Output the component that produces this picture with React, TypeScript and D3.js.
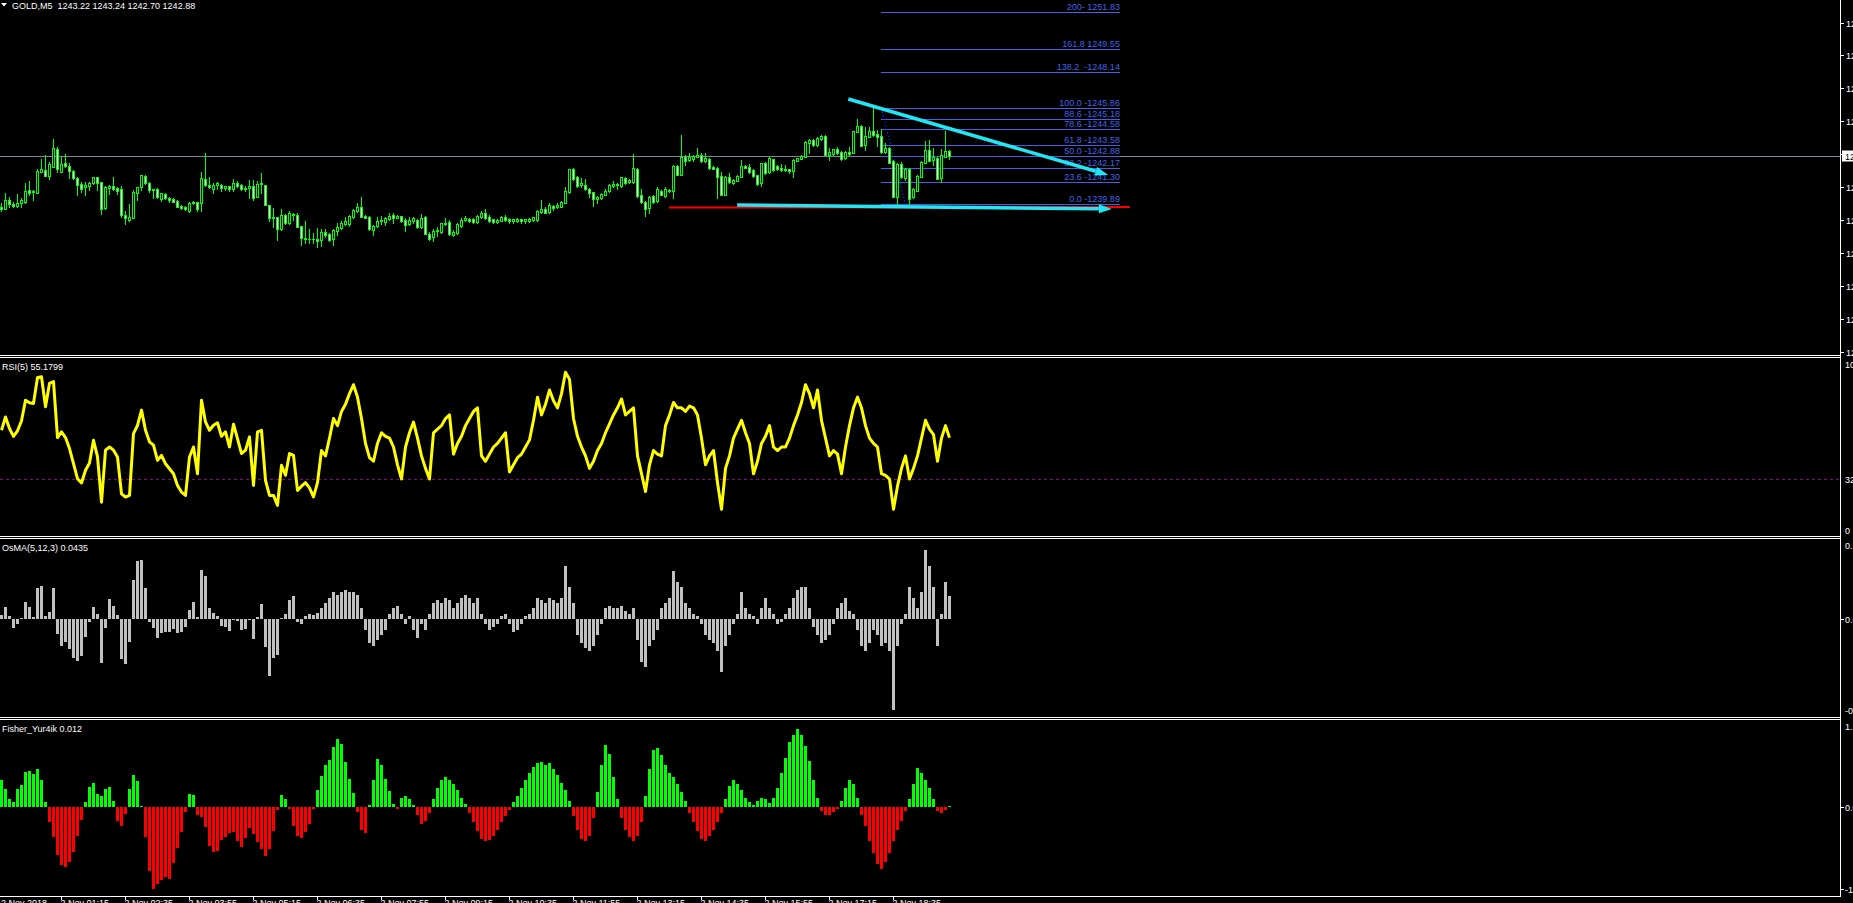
import React from "react";
import * as d3 from "d3";

const W = 1853;
const H = 903;
const AXIS_X = 1840.5;
const FONT = "'Liberation Sans', Arial, sans-serif";

const titleText = "GOLD,M5  1243.22 1243.24 1242.70 1242.88";
const rsiTitle = "RSI(5) 55.1799";
const osmaTitle = "OsMA(5,12,3) 0.0435";
const fisherTitle = "Fisher_Yur4ik 0.012";

// [open, high, low, close]
const candles: [number, number, number, number][] = [
  [1239.75,1240.00,1239.48,1239.63],[1239.63,1240.58,1239.63,1240.17],[1240.13,1240.33,1239.75,1239.92],[1239.94,1240.04,1239.71,1239.79],[1239.79,1240.52,1239.71,1239.98],
  [1239.96,1240.27,1239.75,1240.17],[1240.06,1241.20,1239.96,1240.71],[1240.77,1241.33,1240.48,1240.60],[1240.64,1240.79,1240.17,1240.71],[1240.62,1242.07,1240.62,1241.95],
  [1241.93,1242.70,1241.93,1242.07],[1242.01,1242.94,1241.68,1241.68],[1241.68,1242.55,1241.47,1242.38],[1242.24,1243.96,1242.20,1243.38],[1243.32,1243.44,1241.93,1242.07],
  [1241.93,1242.82,1241.93,1242.41],[1242.45,1243.03,1242.20,1242.28],[1242.28,1242.45,1241.51,1241.95],[1241.95,1242.03,1241.47,1241.51],[1241.51,1241.62,1240.48,1241.12],
  [1241.14,1241.31,1240.68,1240.85],[1240.95,1241.27,1240.50,1241.10],[1241.06,1241.31,1240.79,1241.22],[1241.20,1241.62,1241.16,1241.58],[1241.58,1241.62,1240.79,1241.24],
  [1241.27,1241.31,1239.30,1239.63],[1239.69,1241.04,1239.63,1240.98],[1240.93,1241.10,1240.54,1241.02],[1241.02,1241.60,1240.79,1240.87],[1240.89,1240.98,1240.54,1240.73],
  [1240.83,1241.04,1239.09,1239.25],[1239.21,1239.48,1238.67,1239.01],[1238.92,1239.92,1238.88,1239.09],[1239.07,1240.79,1239.03,1240.64],[1240.62,1241.00,1240.13,1240.95],
  [1240.95,1241.74,1240.79,1241.70],[1241.66,1241.74,1241.16,1241.24],[1241.20,1241.31,1240.68,1240.79],[1240.79,1240.87,1240.31,1240.83],[1240.83,1240.89,1240.29,1240.33],
  [1240.23,1240.62,1240.10,1240.58],[1240.54,1240.62,1240.21,1240.27],[1240.27,1240.35,1240.06,1240.17],[1240.23,1240.29,1240.02,1240.06],[1240.10,1240.15,1239.71,1239.75],
  [1239.79,1239.86,1239.59,1239.65],[1239.73,1239.79,1239.54,1239.59],[1239.46,1240.04,1239.42,1239.98],[1239.96,1240.10,1239.92,1240.04],[1240.02,1240.06,1239.46,1239.63],
  [1239.96,1241.91,1239.48,1241.51],[1241.45,1243.11,1241.04,1241.10],[1241.08,1241.60,1240.89,1240.95],[1240.85,1241.20,1240.58,1241.10],[1241.08,1241.31,1240.87,1241.20],
  [1241.12,1241.18,1240.75,1240.93],[1240.93,1241.06,1240.79,1241.02],[1241.02,1241.06,1240.75,1240.83],[1240.85,1241.47,1240.75,1241.20],[1241.24,1241.35,1240.95,1241.04],
  [1241.08,1241.14,1240.79,1240.83],[1240.83,1241.02,1240.75,1240.91],[1240.89,1241.41,1240.27,1241.04],[1241.06,1241.41,1240.17,1240.27],[1240.37,1241.37,1240.33,1241.16],
  [1241.18,1241.85,1240.58,1241.22],[1241.08,1241.12,1239.83,1239.88],[1239.83,1239.88,1238.88,1239.01],[1239.03,1239.69,1238.51,1239.09],[1239.09,1239.13,1237.68,1238.34],
  [1238.36,1239.61,1238.30,1239.23],[1239.23,1239.30,1238.67,1238.72],[1238.76,1239.50,1238.69,1239.36],[1239.30,1239.36,1238.92,1239.23],[1239.21,1239.34,1238.47,1238.51],
  [1238.53,1238.57,1237.37,1237.78],[1237.82,1238.88,1237.51,1237.72],[1237.74,1238.38,1237.51,1237.76],[1237.74,1238.09,1237.47,1237.72],[1237.72,1238.40,1237.26,1237.60],
  [1237.68,1238.34,1237.31,1238.20],[1238.20,1238.34,1237.89,1237.97],[1238.03,1238.09,1237.62,1237.68],[1237.72,1238.38,1237.37,1238.30],[1238.26,1238.72,1237.99,1238.49],
  [1238.43,1238.88,1238.38,1238.76],[1238.65,1239.13,1238.61,1238.86],[1238.65,1239.23,1238.57,1239.17],[1239.09,1239.63,1239.05,1239.54],[1239.46,1239.96,1239.42,1239.71],
  [1239.71,1240.33,1239.09,1239.13],[1239.17,1239.25,1239.01,1239.05],[1239.13,1239.19,1238.30,1238.34],[1238.32,1238.61,1237.99,1238.53],[1238.57,1239.13,1238.51,1238.86],
  [1238.86,1239.17,1238.67,1238.90],[1238.80,1239.09,1238.61,1239.05],[1238.96,1239.34,1238.92,1239.17],[1239.21,1239.34,1238.76,1239.07],[1239.07,1239.21,1239.01,1239.17],
  [1239.15,1239.19,1238.82,1238.88],[1238.92,1239.01,1238.26,1238.63],[1238.65,1239.09,1238.59,1238.92],[1238.88,1239.13,1238.76,1239.05],[1238.92,1238.96,1238.43,1238.51],
  [1238.49,1239.30,1238.45,1239.03],[1239.09,1239.17,1238.03,1238.07],[1238.07,1238.14,1237.68,1237.76],[1237.89,1238.34,1237.64,1238.26],[1238.24,1238.47,1237.93,1238.28],
  [1238.16,1238.76,1238.11,1238.72],[1238.67,1239.05,1238.63,1238.72],[1238.80,1238.92,1237.99,1238.03],[1238.01,1238.30,1237.93,1238.18],[1238.11,1238.76,1238.05,1238.67],
  [1238.57,1239.01,1238.51,1238.92],[1238.92,1239.17,1238.88,1239.05],[1238.99,1239.05,1238.82,1238.88],[1238.96,1239.05,1238.76,1238.82],[1238.82,1239.23,1238.76,1239.17],
  [1239.12,1239.50,1239.02,1239.37],[1239.33,1239.58,1238.96,1239.02],[1239.12,1239.23,1238.79,1238.87],[1238.96,1239.00,1238.71,1238.79],[1238.79,1238.98,1238.73,1238.92],
  [1238.87,1239.16,1238.83,1239.08],[1239.12,1239.21,1238.83,1238.92],[1238.98,1239.02,1238.75,1238.83],[1238.83,1239.00,1238.75,1238.96],[1238.87,1239.04,1238.79,1239.00],
  [1238.96,1239.00,1238.75,1238.85],[1238.83,1239.00,1238.75,1238.96],[1238.87,1239.02,1238.81,1239.00],[1238.92,1239.12,1238.85,1239.08],[1238.92,1239.54,1238.87,1239.50],
  [1239.43,1240.16,1239.37,1239.62],[1239.62,1239.74,1239.33,1239.37],[1239.43,1239.95,1239.37,1239.85],[1239.81,1239.85,1239.54,1239.64],[1239.74,1239.95,1239.64,1239.85],
  [1239.74,1240.12,1239.70,1240.03],[1239.99,1240.95,1239.95,1240.70],[1240.68,1242.11,1240.62,1242.07],[1242.07,1242.15,1241.40,1241.44],[1241.57,1241.65,1240.99,1241.03],
  [1241.07,1241.51,1240.99,1241.24],[1241.07,1241.49,1240.78,1240.86],[1240.84,1240.91,1240.37,1240.57],[1240.64,1240.68,1239.79,1240.20],[1240.20,1240.41,1239.95,1240.37],
  [1240.30,1240.57,1240.24,1240.51],[1240.49,1240.82,1240.45,1240.74],[1240.72,1241.15,1240.68,1241.11],[1241.03,1241.36,1240.99,1241.15],[1241.15,1241.24,1240.86,1241.09],
  [1241.03,1241.61,1240.99,1241.57],[1241.53,1241.61,1241.15,1241.20],[1241.28,1241.44,1241.24,1241.40],[1241.30,1243.02,1241.24,1242.17],[1242.09,1242.13,1240.37,1240.43],
  [1240.45,1240.82,1239.99,1240.06],[1240.03,1240.08,1239.16,1239.62],[1239.66,1240.41,1239.33,1240.37],[1240.41,1240.45,1239.99,1240.03],[1240.10,1240.99,1240.03,1240.82],
  [1240.72,1240.78,1240.45,1240.49],[1240.41,1240.99,1240.37,1240.82],[1240.78,1240.82,1240.68,1240.72],[1240.74,1242.31,1240.26,1242.27],[1242.27,1242.31,1241.69,1241.73],
  [1241.73,1244.20,1241.69,1242.85],[1242.85,1242.94,1242.34,1242.61],[1242.65,1243.06,1242.56,1242.81],[1242.69,1242.98,1242.61,1242.90],[1242.85,1243.37,1242.81,1242.96],
  [1242.96,1243.06,1242.54,1242.61],[1242.61,1243.06,1242.54,1242.75],[1242.69,1242.75,1242.11,1242.17],[1242.23,1242.27,1242.07,1242.11],[1242.13,1242.19,1240.28,1241.57],
  [1241.65,1241.92,1240.45,1240.49],[1240.49,1241.65,1240.45,1241.61],[1241.57,1241.86,1241.24,1241.28],[1241.24,1241.49,1241.15,1241.40],[1241.36,1241.71,1241.32,1241.65],
  [1241.61,1242.65,1241.57,1242.27],[1242.27,1242.31,1242.13,1242.17],[1242.19,1242.40,1241.86,1241.90],[1242.02,1242.11,1241.61,1241.65],[1241.69,1241.73,1241.11,1241.15],
  [1241.24,1242.48,1241.05,1242.44],[1242.46,1242.50,1241.76,1241.82],[1241.90,1242.85,1241.86,1242.75],[1242.69,1242.73,1241.98,1242.02],[1242.27,1242.31,1242.02,1242.07],
  [1242.15,1242.40,1241.98,1242.02],[1242.02,1242.34,1241.98,1242.11],[1242.07,1242.11,1241.86,1241.94],[1241.94,1242.69,1241.61,1242.65],[1242.61,1242.79,1242.56,1242.75],
  [1242.73,1242.94,1242.69,1242.90],[1242.85,1243.83,1242.81,1243.79],[1243.72,1243.93,1243.06,1243.89],[1243.89,1243.93,1243.52,1243.58],[1243.58,1244.10,1243.52,1243.99],
  [1243.93,1244.18,1243.89,1244.14],[1244.14,1244.18,1242.94,1242.98],[1242.98,1243.37,1242.65,1243.16],[1243.02,1243.35,1242.98,1243.31],[1243.31,1243.43,1243.02,1243.06],
  [1243.16,1243.21,1242.67,1242.71],[1242.75,1243.19,1242.71,1243.14],[1243.16,1243.48,1242.96,1243.02],[1243.10,1244.47,1243.06,1244.43],[1244.41,1245.18,1244.37,1244.76],
  [1244.76,1244.80,1243.50,1243.54],[1243.58,1244.68,1243.27,1244.14],[1244.10,1244.68,1244.06,1244.47],[1244.43,1245.86,1244.16,1244.20],[1244.26,1244.51,1243.52,1244.06],
  [1244.14,1244.55,1243.10,1243.14],[1243.14,1243.68,1243.10,1243.39],[1243.37,1243.43,1242.44,1242.48],[1242.61,1242.65,1240.33,1240.37],[1240.37,1242.44,1239.91,1242.40],
  [1242.40,1242.54,1241.51,1241.57],[1241.51,1242.13,1241.40,1242.09],[1242.09,1242.13,1239.89,1240.20],[1240.33,1240.91,1240.28,1240.86],[1240.74,1241.69,1240.70,1241.65],
  [1241.61,1242.56,1241.57,1242.52],[1242.48,1243.83,1242.44,1243.27],[1243.27,1243.89,1242.56,1242.61],[1242.65,1243.37,1242.34,1242.85],[1242.77,1242.81,1241.44,1241.49],
  [1241.53,1243.31,1241.28,1242.94],[1242.85,1244.45,1242.81,1243.19],[1243.22,1243.24,1242.70,1242.88],
];

const rsiValues = [
  59.4, 66.9, 60.4, 56.0, 59.1, 64.7, 76.3, 74.8, 74.5, 89.1,
  89.5, 72.6, 85.7, 86.7, 55.3, 58.5, 55.3, 49.1, 40.6, 32.2,
  29.8, 36.9, 41.0, 53.8, 44.4, 19.0, 48.2, 50.0, 48.2, 44.4,
  23.7, 21.9, 22.8, 57.5, 62.2, 70.7, 59.4, 52.9, 51.0, 42.5,
  45.3, 40.6, 37.8, 35.0, 28.4, 24.7, 22.8, 44.4, 50.0, 35.0,
  76.3, 64.1, 59.4, 62.2, 63.6, 56.0, 58.5, 50.0, 62.8, 54.7,
  46.3, 48.2, 55.7, 28.4, 58.5, 59.4, 31.3, 22.8, 22.8, 17.2,
  39.7, 34.1, 46.3, 45.3, 25.6, 28, 30, 27, 22, 30,
  48, 45, 55, 66, 62, 70, 74, 80, 85, 78,
  66, 52, 44, 42, 52, 58, 56, 55, 50, 40,
  32, 50, 58, 64, 55, 45, 38, 32, 58, 60,
  62, 66, 68, 46, 52, 56, 62, 66, 70, 72,
  45, 42, 46, 50, 52, 55, 58, 36, 40, 44,
  46, 50, 54, 65, 78, 68, 74, 82, 76, 72,
  80, 92, 88, 66, 56, 50, 45, 38, 42, 48,
  52, 58, 63, 68, 72, 77, 68, 70, 72, 45,
  35, 25, 40, 48, 46, 45, 62, 68, 75, 72,
  72, 70, 73, 72, 68, 55, 40, 45, 48, 30,
  15, 38, 45, 55, 60, 65, 58, 52, 35, 42,
  52, 56, 62, 50, 48, 50, 50, 55, 62, 68,
  75, 85, 80, 72, 82, 65, 55, 45, 48, 46,
  35, 50, 62, 72, 78, 72, 62, 55, 52, 50,
  35, 34, 32, 15, 28, 38, 45, 32, 38, 45,
  55, 65, 60, 57, 42, 55, 62, 55.18,
];
const rsiLevel = 32;

const osmaValues = [
  0.0075, 0.022, 0.0056, -0.016, -0.010, 0.001, 0.032, 0.0225, 0.003, 0.059,
  0.062, 0.0056, 0.013, 0.0575, -0.028, -0.051, -0.0425, -0.056, -0.074, -0.078,
  -0.069, -0.033, -0.005, 0.022, 0.0094, -0.083, -0.016, 0.037, 0.024, 0.0075,
  -0.0756, -0.085, -0.0425, 0.073, 0.109, 0.111, 0.058, -0.005, -0.016, -0.036,
  -0.026, -0.024, -0.024, -0.019, -0.027, -0.024, -0.0144, 0.017, 0.031, 0.0044,
  0.092, 0.081, 0.021, 0.011, 0.0056, -0.013, -0.0144, -0.022, -0.002, -0.0044,
  -0.0206, -0.019, -0.002, -0.037, 0.003, 0.028, -0.052, -0.106, -0.0725, -0.0675,
  0.001, 0.010, 0.036, 0.043, -0.005, -0.01, 0.005, 0.01, 0.008, 0.012,
  0.02, 0.03, 0.04, 0.05, 0.045, 0.05, 0.055, 0.05, 0.05, 0.045,
  0.02, -0.02, -0.045, -0.05, -0.04, -0.03, -0.02, 0.01, 0.02, 0.025,
  0.01, -0.01, 0.005, -0.02, -0.035, -0.01, -0.02, 0.01, 0.03, 0.035,
  0.03, 0.04, 0.035, 0.02, 0.03, 0.04, 0.045, 0.04, 0.03, 0.04,
  0.01, -0.01, -0.02, -0.015, -0.01, 0.005, 0.01, -0.01, -0.025, -0.02,
  -0.01, 0.005, 0.01, 0.02, 0.04, 0.035, 0.03, 0.04, 0.035, 0.03,
  0.04, 0.1, 0.06, 0.03, -0.03, -0.045, -0.055, -0.06, -0.05, -0.03,
  -0.01, 0.02, 0.025, 0.02, 0.02, 0.025, 0.015, 0.01, 0.02, -0.04,
  -0.08, -0.09, -0.05, -0.04, -0.02, 0.02, 0.03, 0.04, 0.09, 0.07,
  0.06, 0.03, 0.02, 0.01, 0.005, -0.01, -0.03, -0.04, -0.045, -0.06,
  -0.1, -0.05, -0.03, -0.01, 0.01, 0.05, 0.02, 0.01, 0.005, -0.01,
  0.02, 0.04, 0.02, 0.01, -0.01, -0.005, 0.01, 0.02, 0.04, 0.055,
  0.06, 0.06, 0.02, -0.015, -0.03, -0.045, -0.04, -0.03, -0.01, 0.02,
  0.03, 0.04, 0.015, 0.01, -0.02, -0.05, -0.06, -0.045, -0.02, -0.03,
  -0.05, -0.045, -0.06, -0.17, -0.05, -0.01, 0.01, 0.06, 0.04, 0.02,
  0.05, 0.13, 0.1, 0.06, -0.05, 0.01, 0.07, 0.0435,
];

const fisherValues = [
  0.355, 0.237, 0.105, 0.066, 0.237, 0.29, 0.46, 0.47, 0.43, 0.5,
  0.355, 0.066, -0.2, -0.39, -0.63, -0.76, -0.79, -0.72, -0.59, -0.38,
  -0.17, 0.066, 0.26, 0.316, 0.17, 0.145, 0.237, 0.26, 0.079, -0.184,
  -0.25, -0.092, 0.237, 0.42, 0.34, 0.013, -0.39, -0.84, -1.08, -1.01,
  -0.96, -0.92, -0.95, -0.74, -0.54, -0.33, -0.066, 0.17, 0.158, -0.105,
  -0.13, -0.26, -0.51, -0.59, -0.58, -0.43, -0.39, -0.34, -0.33, -0.45,
  -0.53, -0.41, -0.28, -0.355, -0.46, -0.55, -0.64, -0.55, -0.32, -0.04,
  0.158, 0.105, -0.026, -0.25, -0.38, -0.41, -0.33, -0.22, -0.026, 0.22,
  0.41, 0.55, 0.62, 0.79, 0.89, 0.83, 0.59, 0.37, 0.18, -0.066,
  -0.30, -0.34, 0.02, 0.355, 0.63, 0.55, 0.37, 0.21, 0.04, -0.026,
  0.12, 0.15, 0.1, 0.03, -0.1, -0.22, -0.18, -0.08, 0.1, 0.25,
  0.35, 0.4, 0.36, 0.3, 0.22, 0.12, 0.04, -0.08, -0.2, -0.32,
  -0.42, -0.45, -0.44, -0.38, -0.3, -0.2, -0.12, -0.04, 0.06, 0.15,
  0.25, 0.35, 0.45, 0.52, 0.58, 0.59, 0.55, 0.58, 0.5, 0.42,
  0.32, 0.22, 0.08, -0.12, -0.3, -0.42, -0.45, -0.38, -0.15, 0.2,
  0.55, 0.82, 0.7, 0.4, 0.1, -0.15, -0.3, -0.4, -0.45, -0.38,
  -0.2, 0.15, 0.5, 0.75, 0.78, 0.68, 0.55, 0.45, 0.4, 0.3,
  0.2, 0.08, -0.08, -0.2, -0.32, -0.42, -0.45, -0.38, -0.3, -0.2,
  -0.08, 0.1, 0.28, 0.36, 0.3, 0.22, 0.12, 0.06, 0.03, 0.08,
  0.12, 0.1, 0.05, 0.12, 0.25, 0.45, 0.65, 0.85, 0.95, 1.03,
  0.95, 0.8, 0.6, 0.35, 0.12, -0.05, -0.11, -0.1, -0.06, -0.03,
  0.08, 0.25, 0.36, 0.3, 0.12, -0.1, -0.25, -0.45, -0.6, -0.75,
  -0.81, -0.72, -0.6, -0.45, -0.3, -0.18, -0.05, 0.1, 0.3, 0.51,
  0.45, 0.35, 0.25, 0.1, -0.05, -0.08, -0.04, 0.012,
];

const priceTicks = [1251.20, 1249.15, 1247.10, 1245.05, 1243.00, 1240.95, 1238.90, 1236.85, 1234.80, 1232.75, 1230.70];
const currentPrice = 1242.88;

const fibHigh = 1245.86;
const fibLow = 1239.89;
const fibLevels = [0, 23.6, 38.2, 50, 61.8, 78.6, 88.6, 100, 138.2, 161.8, 200];
const fibLabels = ["0.0 -1239.89", "23.6 -1241.30", "38.2 -1242.17", "50.0 -1242.88", "61.8 -1243.58", "78.6 -1244.58", "88.6 -1245.18", "100.0 -1245.86", "138.2  -1248.14", "161.8 1249.55", "200- 1251.83"];
const fibBars = [219.9, 279.6];
const fibTrendBars = [220, 226];

// annotation lines: [bar, price]
const trendDown: [number, number][] = [[211.7, 1246.44], [276.7, 1241.72]];
const trendFlat: [number, number][] = [[183.9, 1239.85], [277.6, 1239.60]];
const redLine: [number, number][] = [[166.9, 1239.69], [282.1, 1239.72]];

const timeTickBars = [15, 31, 47, 63, 79, 95, 111, 127, 143, 159, 175, 191, 207, 223];
const timeLabels = ["2 Nov 01:15", "2 Nov 02:35", "2 Nov 03:55", "2 Nov 05:15", "2 Nov 06:35", "2 Nov 07:55", "2 Nov 09:15", "2 Nov 10:35", "2 Nov 11:55", "2 Nov 13:15", "2 Nov 14:35", "2 Nov 15:55", "2 Nov 17:15", "2 Nov 18:35"];
const firstDateLabel = "2 Nov 2018";

const osmaAxis = ["0.1500", "0.00", "-0.1838"];
const fisherAxis = ["1.145", "0.00", "-1.171"];

function arrowShape(x1: number, y1: number, x2: number, y2: number, len: number, half: number) {
  const dx = x2 - x1, dy = y2 - y1;
  const L = Math.hypot(dx, dy);
  const ux = dx / L, uy = dy / L;
  const bx = x2 - ux * len, by = y2 - uy * len;
  const px = -uy, py = ux;
  const pts = [[x2, y2], [bx + px * half, by + py * half], [bx - px * half, by - py * half]];
  return { bx, by, points: pts.map(p => p.join(",")).join(" ") };
}

export default function App() {
  const x = d3.scaleLinear().domain([0, 237]).range([1.5, 949.5]);
  const yP = d3.scaleLinear().domain([1230.52, 1252.60]).range([355, 0]);
  const yR = d3.scaleLinear().domain([0, 100]).range([536, 358]);
  const yO = d3.scaleLinear().domain([-0.18375, 0.15]).range([717, 539]);
  const yF = d3.scaleLinear().domain([-1.171, 1.145]).range([896, 720]);

  const rsiPath = d3.line<number>().x((_, i) => x(i)).y(v => yR(v))(rsiValues) || "";

  const green = "#00ff00";
  const cyan = "#22e6f2";
  const fibColor = "#4063e6";

  const td = trendDown.map(([b, p]) => [x(b), yP(p)]);
  const tf = trendFlat.map(([b, p]) => [x(b), yP(p)]);
  const a1 = arrowShape(td[0][0], td[0][1], td[1][0], td[1][1], 13, 4.5);
  const a2 = arrowShape(tf[0][0], tf[0][1], tf[1][0], tf[1][1], 13, 4.5);

  const txt = { fontFamily: FONT, fontSize: 9, fill: "#ffffff", whiteSpace: "pre" } as const;

  return (
    <svg width={W} height={H} style={{ position: "fixed", left: 0, top: 0, display: "block", background: "#000" }}>
      <rect x={0} y={0} width={W} height={H} fill="#000" />

      <line x1={0} x2={AXIS_X} y1={Math.round(yP(currentPrice)) + 0.5} y2={Math.round(yP(currentPrice)) + 0.5} stroke="#778899" strokeWidth={1} shapeRendering="crispEdges" />

      {fibLevels.map((lv, k) => {
        const yy = Math.round(yP(fibLow + (fibHigh - fibLow) * lv / 100)) + 0.5;
        return (
          <g key={"fib" + k}>
            <line x1={x(fibBars[0])} x2={x(fibBars[1])} y1={yy} y2={yy} stroke={fibColor} strokeWidth={1} shapeRendering="crispEdges" />
            <text x={x(fibBars[1])} y={yy - 2.5} textAnchor="end" xmlSpace="preserve" style={{ ...txt, fill: fibColor }}>{fibLabels[k]}</text>
          </g>
        );
      })}
      <line x1={x(fibTrendBars[0])} y1={yP(fibHigh)} x2={x(fibTrendBars[1])} y2={yP(fibLow)} stroke="#1a2cff" strokeWidth={1} strokeDasharray="1.5 2" />

      {candles.map(([o, h, l, c], i) => {
        const cx = x(i);
        const top = Math.round(yP(Math.max(o, c)));
        const bot = Math.round(yP(Math.min(o, c)));
        const yh = Math.round(yP(h));
        const yl = Math.round(yP(l));
        const bear = c < o;
        return (
          <g key={"c" + i} shapeRendering="crispEdges">
            <line x1={cx} x2={cx} y1={yh} y2={yl + 1} stroke={green} strokeWidth={1} />
            {bot - top >= 1 ? (
              <rect x={cx - 1} y={top + 0.5} width={2} height={bot - top} fill={bear ? "#ffffff" : "#000000"} stroke={green} strokeWidth={1} />
            ) : (
              <line x1={cx - 1.5} x2={cx + 1.5} y1={top + 0.5} y2={top + 0.5} stroke={green} strokeWidth={1} />
            )}
          </g>
        );
      })}

      <line x1={x(redLine[0][0])} y1={yP(redLine[0][1])} x2={x(redLine[1][0])} y2={yP(redLine[1][1])} stroke="#ff0000" strokeWidth={2} />
      <line x1={tf[0][0]} y1={tf[0][1]} x2={a2.bx} y2={a2.by} stroke={cyan} strokeWidth={3.5} />
      <polygon points={a2.points} fill={cyan} />
      <line x1={td[0][0]} y1={td[0][1]} x2={a1.bx} y2={a1.by} stroke={cyan} strokeWidth={3.5} />
      <polygon points={a1.points} fill={cyan} />

      <polygon points="1,3 7,3 4,6.5" fill="#ffffff" />
      <text x={12} y={8.5} xmlSpace="preserve" style={txt}>{titleText}</text>

      <line x1={0} x2={AXIS_X} y1={Math.round(yR(rsiLevel)) + 0.5} y2={Math.round(yR(rsiLevel)) + 0.5} stroke="#8b008b" strokeWidth={1} strokeDasharray="3 3" shapeRendering="crispEdges" />
      <path d={rsiPath} fill="none" stroke="#ffff00" strokeWidth={3} strokeLinejoin="round" />
      <text x={2} y={370} style={txt}>{rsiTitle}</text>

      {osmaValues.map((v, i) => {
        const y0 = Math.round(yO(0));
        const y1 = Math.round(yO(v));
        return <rect key={"o" + i} x={x(i) - 1.5} y={Math.min(y0, y1)} width={3} height={Math.max(1, Math.abs(y1 - y0))} fill="#c0c0c0" shapeRendering="crispEdges" />;
      })}
      <text x={2} y={550.5} style={txt}>{osmaTitle}</text>

      {fisherValues.map((v, i) => {
        const y0 = Math.round(yF(0));
        const y1 = Math.round(yF(v));
        return <rect key={"f" + i} x={x(i) - 1.5} y={Math.min(y0, y1)} width={3} height={Math.max(1, Math.abs(y1 - y0))} fill={v >= 0 ? "#00ff00" : "#ff0000"} shapeRendering="crispEdges" />;
      })}
      <text x={2} y={732} style={txt}>{fisherTitle}</text>

      <g stroke="#ffffff" strokeWidth={1} shapeRendering="crispEdges">
        {[355.5, 357.5, 536.5, 538.5, 717.5, 719.5, 896.5].map((yy, k) => (
          <line key={"b" + k} x1={0} x2={AXIS_X} y1={yy} y2={yy} />
        ))}
        <line x1={AXIS_X} x2={AXIS_X} y1={0} y2={897} />
      </g>

      {priceTicks.map((p, k) => {
        const yy = Math.round(yP(p)) + 0.5;
        return (
          <g key={"pt" + k}>
            <line x1={AXIS_X} x2={AXIS_X + 3} y1={yy} y2={yy} stroke="#fff" shapeRendering="crispEdges" />
            <text x={1846} y={yy + 3.2} style={txt}>{p.toFixed(2)}</text>
          </g>
        );
      })}
      <rect x={1842} y={150.5} width={14} height={11} fill="#ffffff" />
      <text x={1845} y={159.5} style={{ ...txt, fill: "#000" }}>{currentPrice.toFixed(2)}</text>

      <text x={1845} y={368} style={txt}>100</text>
      <text x={1845} y={Math.round(yR(rsiLevel)) + 3.7} style={txt}>{String(rsiLevel)}</text>
      <text x={1845} y={533.5} style={txt}>0</text>

      <text x={1845} y={549} style={txt}>{osmaAxis[0]}</text>
      <line x1={AXIS_X} x2={AXIS_X + 3} y1={Math.round(yO(0)) + 0.5} y2={Math.round(yO(0)) + 0.5} stroke="#fff" shapeRendering="crispEdges" />
      <text x={1845} y={Math.round(yO(0)) + 3.7} style={txt}>{osmaAxis[1]}</text>
      <text x={1845} y={713.5} style={txt}>{osmaAxis[2]}</text>

      <text x={1845} y={729.5} style={txt}>{fisherAxis[0]}</text>
      <line x1={AXIS_X} x2={AXIS_X + 3} y1={Math.round(yF(0)) + 0.5} y2={Math.round(yF(0)) + 0.5} stroke="#fff" shapeRendering="crispEdges" />
      <text x={1845} y={Math.round(yF(0)) + 3.7} style={txt}>{fisherAxis[1]}</text>
      <line x1={AXIS_X} x2={AXIS_X + 3} y1={889.5} y2={889.5} stroke="#fff" shapeRendering="crispEdges" />
      <text x={1845} y={893} style={txt}>{fisherAxis[2]}</text>

      <text x={1} y={906} style={txt}>{firstDateLabel}</text>
      {timeTickBars.map((b, k) => {
        const xx = Math.round(x(b) - 0.5) + 0.5;
        return (
          <g key={"tt" + k}>
            <line x1={xx} x2={xx} y1={897} y2={900} stroke="#fff" shapeRendering="crispEdges" />
            <text x={xx - 1} y={906} style={txt}>{timeLabels[k]}</text>
          </g>
        );
      })}
    </svg>
  );
}
